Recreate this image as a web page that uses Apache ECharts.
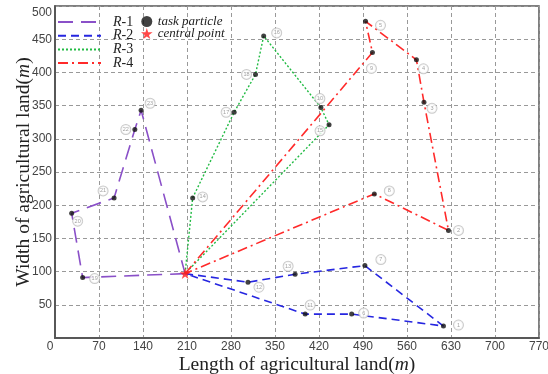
<!DOCTYPE html>
<html><head><meta charset="utf-8">
<script src="https://cdn.jsdelivr.net/npm/echarts@6/dist/echarts.min.js"></script>
<style>html,body{margin:0;padding:0;background:#fff}#c{width:548px;height:374px}</style>
</head><body><div id="c"></div>
<script>
// ---- data ----
const xTicks = [0,70,140,210,280,350,420,490,560,630,700,770];
const yTicks = [50,100,150,200,250,300,350,400,450,500];
const central = [207, 97];
const r1Ids = [19,20,21,22,23];
const r1Pts = [[44,91],[26.5,188],[94,211],[127,314],[137,343]];
const r2Ids = [12,13,7,1,6,11];
const r2Pts = [[307,84],[382,96],[493,109],[618,18],[472,36],[398,36]];
const r3Ids = [14,17,18,16,10,15];
const r3Pts = [[219,211],[285,340],[319,397],[332,455],[423,347],[436,321]];
const r4Ids = [9,5,4,3,2,8];
const r4Pts = [[505,430],[494,477],[575,419],[587,355],[626,162],[508,217]];

// ---- label placement (style, not data) ----
const labelOffset = {
 19:[12,1],20:[6,8],21:[-11,-7],22:[-9,0],23:[9,-7],
 12:[11,5],13:[-7,-8],7:[16,-6],1:[15,-1],6:[12,-1],11:[5,-9],
 14:[10,-1],17:[-8,0],18:[-9,0],16:[13,-3],10:[-1,-9],15:[-9,6],
 9:[-1,16],5:[15,4],4:[7,9],3:[8,6],2:[10,0],8:[15,-3]
};
const STAR = 'path://M50,0 L61,35 L98,35 L68,57 L79,91 L50,70 L21,91 L32,57 L2,35 L39,35 Z';

function route(pts){ return [central].concat(pts).concat([central]); }
const allIds = r1Ids.concat(r2Ids, r3Ids, r4Ids);
const allPts = r1Pts.concat(r2Pts, r3Pts, r4Pts);
const taskData = allPts.map((p,i)=>({
  value:p,
  label:{show:true,position:'inside',offset:labelOffset[allIds[i]],
    formatter:'{c|'+allIds[i]+'}',
    rich:{c:{width:9,height:9,lineHeight:9,borderRadius:5,borderColor:'#bdbdbd',borderWidth:1,
      fontSize:5.5,color:'#888',align:'center',verticalAlign:'middle',backgroundColor:'#fff'}}}
}));

const serif = '"Liberation Serif","DejaVu Serif",serif';
const sans = '"Liberation Sans",Arial,sans-serif';
const frameAxis = {axisLine:{show:true,lineStyle:{color:'#555',width:1.5}},axisTick:{show:false},axisLabel:{show:false},splitLine:{show:false}};
const chart = echarts.init(document.getElementById('c'));
chart.setOption({
  animation:false,
  grid:{left:55,right:9,top:6,bottom:36,show:true,borderColor:'#555',borderWidth:1.5,backgroundColor:'transparent',
    outerBoundsMode:'none',containLabel:false},
  xAxis:[{type:'value',min:0,max:770,interval:70,
    name:'Length of agricultural land({m|m})',nameLocation:'middle',nameGap:17,nameMoveOverlap:false,
    nameTextStyle:{fontFamily:serif,fontSize:19.5,color:'#222',rich:{m:{fontFamily:serif,fontSize:19.5,fontStyle:'italic',color:'#222'}}},
    axisLine:{lineStyle:{color:'#555',width:1.5}},axisTick:{show:false},
    axisLabel:{color:'#444',fontSize:12,fontFamily:sans,margin:3,
      formatter:v=>v===0?'{z|0}':(xTicks.indexOf(v)>=0?String(v):''),
      rich:{z:{fontSize:12,fontFamily:sans,color:'#444',padding:[0,10,0,0]}}},
    splitLine:{show:true,lineStyle:{color:'#999',type:[4,3],width:1}}},
    Object.assign({type:'value',min:0,max:770,interval:70,position:'top'},frameAxis)],
  yAxis:[{type:'value',min:0,max:500,interval:50,
    name:'Width of agricultural land({m|m})',nameLocation:'middle',nameGap:21,nameMoveOverlap:false,
    nameTextStyle:{fontFamily:serif,fontSize:19.5,color:'#222',rich:{m:{fontFamily:serif,fontSize:19.5,fontStyle:'italic',color:'#222'}}},
    axisLine:{lineStyle:{color:'#555',width:1.5}},axisTick:{show:false},
    axisLabel:{color:'#444',fontSize:12,fontFamily:sans,margin:3,
      formatter:v=>v===500?'{t|500}':(yTicks.indexOf(v)>=0?String(v):''),
      rich:{t:{fontSize:12,fontFamily:sans,color:'#444',padding:[14,0,0,0]}}},
    splitLine:{show:true,lineStyle:{color:'#999',type:[4,3],width:1}}},
    Object.assign({type:'value',min:0,max:500,interval:50,position:'right'},frameAxis)],
  legend:[{
    data:['R-1','R-2','R-3','R-4'],orient:'vertical',left:57,top:15,padding:0,itemWidth:43,itemHeight:10,itemGap:-0.3,
    itemStyle:{opacity:0},
    formatter:n=>'{i|R}'+n.slice(1),
    textStyle:{fontFamily:serif,fontSize:14,color:'#222',padding:[0,0,0,7],
      rich:{i:{fontFamily:serif,fontSize:14,fontStyle:'italic',color:'#222'}}}
  },{
    data:['task particle','central point'],orient:'vertical',left:141,top:15,padding:0,itemWidth:12,itemHeight:11,itemGap:-1,
    textStyle:{fontFamily:serif,fontSize:13,fontStyle:'italic',color:'#222',padding:[0,0,0,0]}
  }],
  series:[
    {name:'R-1',type:'line',data:route(r1Pts),symbol:'none',color:'#8a50c8',lineStyle:{color:'#8a50c8',width:1.6,type:[15,8]},z:2},
    {name:'R-2',type:'line',data:route(r2Pts),symbol:'none',color:'#2626e0',lineStyle:{color:'#2626e0',width:1.6,type:[8,5]},z:2},
    {name:'R-3',type:'line',data:route(r3Pts),symbol:'none',color:'#22bb44',lineStyle:{color:'#22bb44',width:1.4,type:[2,2]},z:2},
    {name:'R-4',type:'line',data:route(r4Pts),symbol:'none',color:'#ff2a2a',lineStyle:{color:'#ff2a2a',width:1.6,type:[10,4,2,4]},z:2},
    {name:'task particle',type:'scatter',data:taskData,symbol:'circle',symbolSize:5,itemStyle:{color:'#111'},z:4},
    {name:'central point',type:'scatter',data:[central],symbol:STAR,symbolSize:11,itemStyle:{color:'#ff1a1a'},z:5}
  ]
});
</script></body></html>
